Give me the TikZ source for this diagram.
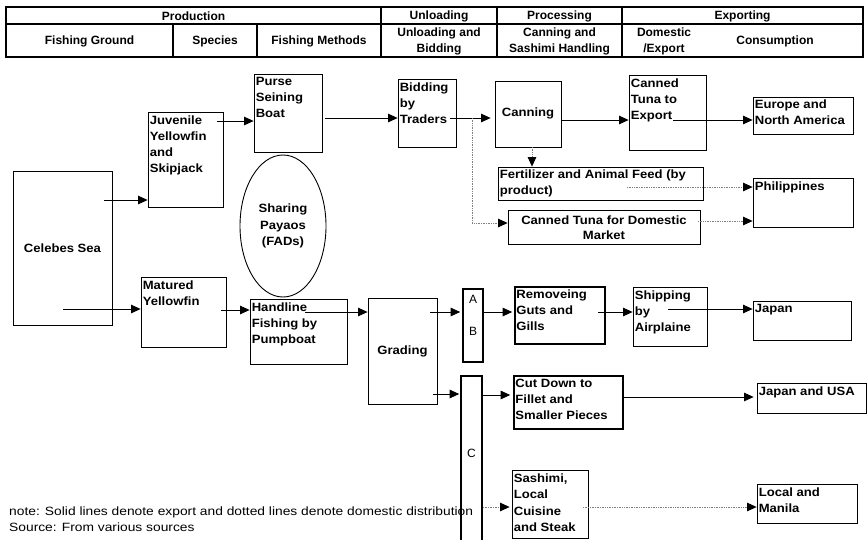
\documentclass[tikz,border=0pt]{standalone}
\usepackage{fontspec}
\setmainfont{Liberation Sans}
\newfontfamily\boxfont{Liberation Sans}[FakeStretch=1.09]
\newfontfamily\notefont{Liberation Sans}[FakeStretch=1.15]
\usetikzlibrary{arrows.meta,shapes.geometric,fit}
\begin{document}
\begin{tikzpicture}[x=1pt,y=-1pt,
  box/.style={draw, line width=0.8pt, inner sep=0pt},
  tbox/.style={draw, line width=1.6pt, inner sep=0pt},
  lab/.style={anchor=north west, align=left, inner xsep=2pt, inner ysep=3.5pt, font=\boxfont\bfseries\fontsize{12}{16}\selectfont},
  clab/.style={align=center, inner sep=0pt, font=\boxfont\bfseries\fontsize{12}{15}\selectfont},
  rlab/.style={inner sep=0pt, font=\fontsize{12}{14}\selectfont},
  hd/.style={align=center, inner sep=0pt, font=\bfseries\fontsize{12}{16}\selectfont},
  hline/.style={line width=1.5pt},
  note/.style={anchor=west, inner sep=0pt, font=\notefont\fontsize{12}{14}\selectfont},
  arr/.style={-{Triangle[length=9.5pt,width=8.5pt]}, line width=0.8pt},
  dotarr/.style={-{Triangle[length=9.5pt,width=8.5pt,color=black]}, line width=0.7pt, draw=gray, densely dotted},
]
\useasboundingbox (0,0) rectangle (867,539);
\clip (0,0) rectangle (867,539);

% ---------- header table ----------
\draw[hline] (6,7) rectangle (863,57);
\draw[hline] (6,24) -- (863,24);
\draw[hline] (381,7) -- (381,57);
\draw[hline] (497,7) -- (497,57);
\draw[hline] (622,7) -- (622,57);
\draw[hline] (173,24) -- (173,57);
\draw[hline] (257,24) -- (257,57);

\node[hd] (h-prod) at (193.5,16) {Production};
\node[hd] (h-unl) at (439,16) {Unloading};
\node[hd] (h-proc) at (559.5,16) {Processing};
\node[hd] (h-exp) at (742.5,16) {Exporting};
\node[hd] (h-fg) at (89.5,41) {Fishing Ground};
\node[hd] (h-sp) at (215,41) {Species};
\node[hd] (h-fm) at (319,41) {Fishing Methods};
\node[hd] (h-ub) at (439,41) {Unloading and\\Bidding};
\node[hd] (h-cs) at (559.5,41) {Canning and\\Sashimi Handling};
\node[hd] (h-de) at (664,41) {Domestic\\/Export};
\node[hd] (h-con) at (775,41) {Consumption};

% ---------- boxes ----------
\node[box, fit={(13,171)(112,325)}] (cel) {};
\node[clab] (cel-t) at (62.5,248) {Celebes Sea};

\node[box, fit={(148,112)(223,207)}] (juv) {};
\node[lab] (juv-t) at (juv.north west) {Juvenile\\Yellowfin\\and\\Skipjack};

\node[box, fit={(141,277)(226,347)}] (mat) {};
\node[lab] (mat-t) at (mat.north west) {Matured\\Yellowfin};

\node[box, fit={(254,74)(322,152)}] (purse) {};
\node[lab] (purse-t) at (purse.north west) {Purse\\Seining\\Boat};

\node[draw, line width=0.9pt, ellipse, minimum width=86pt, minimum height=142pt, inner sep=0pt,
      align=center, font=\boxfont\bfseries\fontsize{12}{16.5}\selectfont] (fad) at (283,226) {Sharing\\Payaos\\(FADs)};

\node[box, fit={(250,299)(347,364)}] (hand) {};
\node[lab] (hand-t) at (hand.north west) {Handline\\Fishing by\\Pumpboat};

\node[box, fit={(398,79)(456,147)}] (bid) {};
\node[lab] (bid-t) at (bid.north west) {Bidding\\by\\Traders};

\node[box, fit={(495,81)(561,147)}] (can) {};
\node[clab] (can-t) at (528,113) {Canning};

\node[box, fit={(498,167)(703,200)}] (fert) {};
\node[lab, inner ysep=2.5pt] (fert-t) at (fert.north west) {Fertilizer and Animal Feed (by\\product)};

\node[box, fit={(508,210)(700,244)}] (dom) {};
\node[clab] (dom-t) at (604,227.5) {Canned Tuna for Domestic\\Market};

\node[box, fit={(629,75)(706,150)}] (exp) {};
\node[lab] (exp-t) at (exp.north west) {Canned\\Tuna to\\Export};

\node[box, fit={(753,97)(853,134)}] (eur) {};
\node[lab, inner ysep=3pt] (eur-t) at (eur.north west) {Europe and\\North America};

\node[box, fit={(753,178)(853,227)}] (phil) {};
\node[lab] (phil-t) at (phil.north west) {Philippines};

\node[box, fit={(368,298)(437,404)}] (grad) {};
\node[clab] (grad-t) at (402.5,351) {Grading};

\node[tbox, fit={(463,289)(483,362)}] (ab) {};
\node[rlab] (ab-a) at (473,299) {A};
\node[rlab] (ab-b) at (473,331) {B};

\node[tbox, fit={(461,376)(482,548)}] (cbox) {};
\node[rlab] (c-t) at (471.5,453) {C};

\node[tbox, fit={(515,287)(605,344)}] (rem) {};
\node[lab] (rem-t) at (rem.north west) {Removeing\\Guts and\\Gills};

\node[box, fit={(633,287)(707,346)}] (ship) {};
\node[lab] (ship-t) at (ship.north west) {Shipping\\by\\Airplaine};

\node[box, fit={(753,301)(851,340)}] (jap) {};
\node[lab] (jap-t) at (jap.north west) {Japan};

\node[tbox, fit={(514,376)(623,429)}] (cut) {};
\node[lab] (cut-t) at (cut.north west) {Cut Down to\\Fillet and\\Smaller Pieces};

\node[box, fit={(757,383)(866,413)}] (jusa) {};
\node[lab] (jusa-t) at (jusa.north west) {Japan and USA};

\node[box, fit={(512,470)(588,538)}] (sash) {};
\node[lab, font=\boxfont\bfseries\fontsize{12}{16.5}\selectfont] (sash-t) at (sash.north west) {Sashimi,\\Local\\Cuisine\\and Steak};

\node[box, fit={(757,484)(857,523)}] (loc) {};
\node[lab] (loc-t) at (loc.north west) {Local and\\Manila};

% ---------- connector start points ----------
\coordinate (s-cel1) at (104,200);
\coordinate (s-cel2) at (63,309);
\coordinate (s-juv) at (217,121);
\coordinate (s-mat) at (221,310);
\coordinate (s-purse) at (325,118);
\coordinate (s-bid) at (450,118);
\coordinate (s-biddot) at (472,118);
\coordinate (s-can) at (532,147);
\coordinate (s-exp) at (673,120);
\coordinate (s-fert) at (627,187);
\coordinate (s-dom) at (698,221);
\coordinate (s-hand) at (305,312);
\coordinate (s-grad1) at (430,312);
\coordinate (s-grad2) at (433,394);
\coordinate (s-rem) at (598,312);
\coordinate (s-ship) at (668,309);
\coordinate (s-sash) at (583,507);

% ---------- connectors ----------
\draw[arr] (s-cel1) -- (s-cel1 -| juv.west);
\draw[arr] (s-cel2) -- (s-cel2 -| mat.west);
\draw[arr] (s-juv) -- (s-juv -| purse.west);
\draw[arr] (s-mat) -- (s-mat -| hand.west);
\draw[arr] (s-purse) -- (s-purse -| bid.west);
\draw[arr, shorten >=4pt] (s-bid) -- (s-bid -| can.west);
\draw[dotarr] (s-biddot) |- (dom.west |- 0,223);
\draw[dotarr] (s-can) -- (s-can |- fert.north);
\draw[arr] (can.east |- 0,120) -- (exp.west |- 0,120);
\draw[arr] (s-exp) -- (s-exp -| eur.west);
\draw[dotarr] (s-fert) -- (s-fert -| phil.west);
\draw[dotarr] (s-dom) -- (s-dom -| phil.west);
\draw[arr] (s-hand) -- (s-hand -| grad.west);
\draw[arr, shorten >=2pt] (s-grad1) -- (s-grad1 -| ab.west);
\draw[arr, shorten >=1pt] (s-grad2) -- (s-grad2 -| cbox.west);
\draw[arr, shorten >=2pt] (ab.east |- 0,312) -- (rem.west |- 0,312);
\draw[arr] (s-rem) -- (s-rem -| ship.west);
\draw[arr] (s-ship) -- (s-ship -| jap.west);
\draw[arr, shorten >=3pt] (cbox.east |- 0,395) -- (cut.west |- 0,395);
\draw[arr, shorten >=3pt] (cut.east |- 0,397) -- (jusa.west |- 0,397);
\draw[dotarr, shorten >=2pt] (cbox.east |- 0,507) -- (sash.west |- 0,507);
\draw[dotarr] (s-sash) -- (s-sash -| loc.west);

% ---------- note ----------
\node[note] (note1) at (9,512) {note: Solid lines denote export and dotted lines denote domestic distribution};
\node[note] (note2) at (9,527) {Source: From various sources};
\end{tikzpicture}
\end{document}
